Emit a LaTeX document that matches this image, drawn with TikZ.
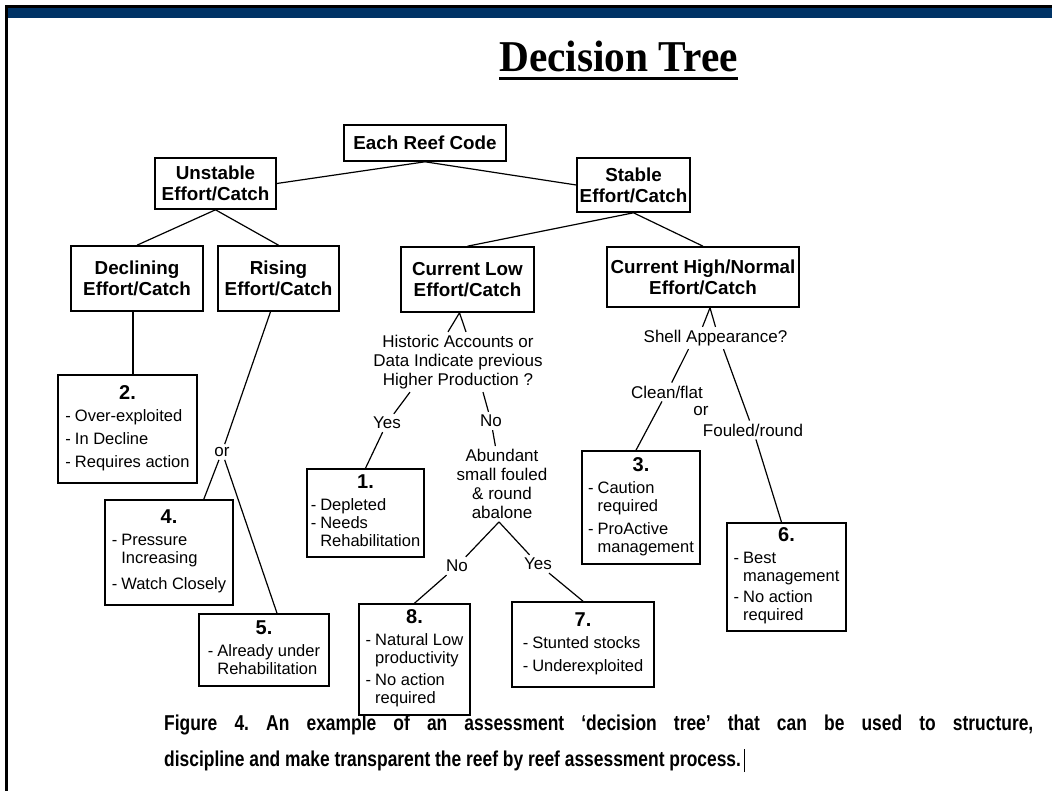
\documentclass[tikz,border=0pt]{standalone}
\usepackage{fontspec}
\setmainfont{Liberation Sans}
\newfontfamily\titlefont{Liberation Serif}
\definecolor{bandblue}{RGB}{0,51,102}
\frenchspacing
\newcommand{\boxfont}{\fontsize{18.8}{21}\selectfont\bfseries}
\newcommand{\askfont}{\fontsize{17}{19}\selectfont}
\newcommand{\leaffont}{\fontsize{16.5}{18}\selectfont}
\newcommand{\numfont}{\fontsize{20}{22}\selectfont\bfseries}
\newcommand{\capfont}{\fontsize{21.5}{26}\selectfont\bfseries}
\newcommand{\outcome}[2]{{\numfont #1}\\[4pt]\begin{tabular}[t]{@{}l@{\hspace{4pt}}l@{}}#2\end{tabular}}
\tikzset{
  catbox/.style={draw, line width=1.6pt, font=\boxfont, align=center, inner sep=2pt},
  endbox/.style={draw, line width=1.6pt, font=\leaffont, align=center, inner sep=2pt},
  asktext/.style={font=\askfont, align=center, inner sep=3pt},
  link/.style={line width=1.2pt},
}

\begin{document}
\begin{tikzpicture}[x=1pt,y=1pt]
\useasboundingbox (0,0) rectangle (1052,-791);
\fill[black] (5,-5) rectangle (1052,-8);
\fill[bandblue] (5,-8) rectangle (1052,-18);
\fill[black] (5,-5) rectangle (7.5,-791);

\node[font=\titlefont\fontsize{44}{48}\selectfont\bfseries, anchor=base, inner sep=0pt] (title) at (618.5,-72) {\scalebox{0.94}[1]{Decision Tree}};
\fill ([yshift=-5pt]title.base west) rectangle ([yshift=-8pt]title.base east);

% effort/catch boxes
\node[catbox, minimum width=162, minimum height=36] (reef) at (425,-143) {Each Reef Code};
\node[catbox, minimum width=121, minimum height=51] (unstable) at (215.5,-183.5) {Unstable\\Effort/Catch};
\node[catbox, minimum width=113, minimum height=54] (stable) at (633.5,-185) {Stable\\Effort/Catch};
\node[catbox, minimum width=132, minimum height=65] (declining) at (137,-278.5) {Declining\\Effort/Catch};
\node[catbox, minimum width=121, minimum height=65] (rising) at (278.5,-278.5) {Rising\\Effort/Catch};
\node[catbox, minimum width=133, minimum height=65] (curlow) at (467.5,-279.5) {Current Low\\Effort/Catch};
\node[catbox, minimum width=192, minimum height=60] (curhigh) at (703,-277) {Current High/Normal\\Effort/Catch};

% outcomes
\node[endbox, minimum width=139, minimum height=108] (out2) at (127.5,-429) {\outcome{2.}{-&Over-exploited\\[5pt]-&In Decline\\[5pt]-&Requires action}};
\node[endbox, minimum width=128, minimum height=105] (out4) at (169,-552.5) {\outcome{4.}{-&Pressure\\&Increasing\\[8pt]-&Watch Closely}};
\node[endbox, minimum width=130, minimum height=72] (out5) at (264,-650) {\outcome{5.}{-&Already under\\&Rehabilitation}};
\node[endbox, minimum width=117, minimum height=88] (out1) at (365.5,-513) {\outcome{1.}{-&Depleted\\-&Needs\\&Rehabilitation}};
\node[endbox, minimum width=111, minimum height=111] (out8) at (414.5,-659.5) {\outcome{8.}{-&Natural Low\\&productivity\\[4pt]-&No action\\&required}};
\node[endbox, minimum width=142, minimum height=85] (out7) at (583,-644.5) {\outcome{7.}{-&Stunted stocks\\[5pt]-&Underexploited}};
\node[endbox, minimum width=118, minimum height=113] (out3) at (641,-507.5) {\outcome{3.}{-&Caution\\&required\\[5pt]-&ProActive\\&management}};
\node[endbox, minimum width=119, minimum height=108] (out6) at (786.5,-577) {\outcome{6.}{-&Best\\&management\\[3pt]-&No action\\&required}};

% questions and answers
\node[asktext] (hist) at (458,-362) {Historic Accounts or\\Data Indicate previous\\Higher Production ?};
\node[asktext] (abund) at (502,-484) {Abundant\\small fouled\\\& round\\abalone};
\node[asktext] (shell) at (715.5,-338) {Shell Appearance?};
\node[asktext] (clean) at (667,-392) {Clean/flat};
\node[asktext] (fouled) at (753,-430) {Fouled/round};
\foreach \nm/\x/\y/\txt in {yes1/387/-423/Yes, no1/491/-421/No, no2/457/-566/No, yes2/538/-564/Yes, orrise/222/-452/or, orshell/701/-411/or}
    \node[asktext] (\nm) at (\x,\y) {\txt};

\foreach \a/\b in {reef.south/unstable.east, reef.south/stable.west, unstable.south/declining.north, unstable.south/rising.north, stable.south/curlow.north, stable.south/curhigh.north}
    \draw[link] (\a) -- (\b);
\draw[link] ([xshift=-4pt]declining.south) -- ([xshift=-4pt]declining.south |- out2.north);
\draw[link] ([xshift=-8pt]rising.south) -- (orrise) -- ([xshift=-30pt]out4.north east);
\draw[link] (orrise) -- ([xshift=13pt]out5.north);
\draw[link] ([xshift=-10pt]hist.north) -- ([xshift=-8pt]curlow.south) -- ([xshift=8pt]hist.north);
\draw[link] ([xshift=-48pt]hist.south) -- (yes1) -- (out1.north);
\draw[link] ([xshift=25pt]hist.south) -- (no1) -- (abund);
\draw[link] ([xshift=-3pt]abund.south) -- (no2) -- (out8.north);
\draw[link] ([xshift=-3pt]abund.south) -- (yes2) -- (out7.north);
\draw[link] ([xshift=-13pt]shell.north) -- ([xshift=7pt]curhigh.south) -- ([xshift=0pt]shell.north);
\draw[link] ([xshift=-27pt]shell.south) -- (clean) -- ([xshift=-5pt]out3.north);
\draw[link] ([xshift=8pt]shell.south) -- (fouled) -- ([xshift=-5pt]out6.north);

\node[font=\capfont, anchor=base west, inner sep=0pt] (cap1) at (164,-730) {\scalebox{0.81}[1]{\makebox[1073pt][s]{Figure 4. An example of an assessment ‘decision tree’ that can be used to structure,}}};
\node[font=\capfont, anchor=base west, inner sep=0pt] (cap2) at (164,-766) {\scalebox{0.81}[1]{discipline and make transparent the reef by reef assessment process.}};
\draw[line width=0.8pt] ([xshift=3pt,yshift=-6pt]cap2.base east) -- ++(0,23);
\end{tikzpicture}
\end{document}
